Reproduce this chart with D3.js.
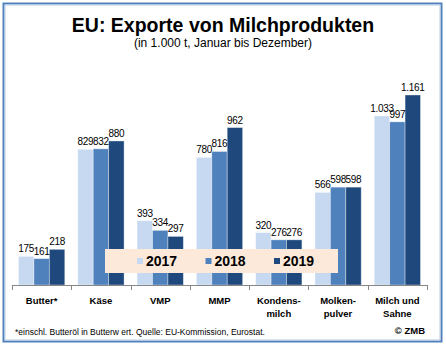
<!DOCTYPE html>
<html>
<head>
<meta charset="utf-8">
<script src="https://cdn.jsdelivr.net/npm/d3@7"></script>
<style>
  html, body { margin: 0; padding: 0; background: #fff; }
  svg { display: block; }
</style>
</head>
<body>
<svg id="chart" width="446" height="346"></svg>
<script>
// Product categories (label lines) and yearly export volumes in 1.000 t
const categories = ["Butter*", "Käse", "VMP", "MMP", "Kondens-\nmilch", "Molken-\npulver", "Milch und\nSahne"];
const years = ["2017", "2018", "2019"];
const values2017 = [175, 829, 393, 780, 320, 566, 1033];
const values2018 = [161, 832, 334, 816, 276, 598, 997];
const values2019 = [218, 880, 297, 962, 276, 598, 1161];
const seriesValues = [values2017, values2018, values2019];
const colors = ["#c6d9f1", "#4f81bd", "#1f497d"];

const svg = d3.select("#chart");
const W = 446, H = 346;

// outer frame
svg.append("rect").attr("x", 3.5).attr("y", 3.5).attr("width", 438).attr("height", 338)
  .attr("fill", "#fff").attr("stroke", "#4f81bd").attr("stroke-width", 2);
svg.append("rect").attr("x", 5).attr("y", 5).attr("width", 435).attr("height", 335)
  .attr("fill", "none").attr("stroke", "#b9cde5").attr("stroke-width", 1);

// titles
svg.append("text").attr("x", 223).attr("y", 32).attr("text-anchor", "middle")
  .attr("font-family", "Liberation Sans, Arial, sans-serif").attr("font-weight", "bold")
  .attr("font-size", 19.5).attr("fill", "#000").text("EU: Exporte von Milchprodukten");
svg.append("text").attr("x", 223).attr("y", 47).attr("text-anchor", "middle")
  .attr("font-family", "Liberation Sans, Arial, sans-serif")
  .attr("font-size", 12).attr("fill", "#000").text("(in 1.000 t, Januar bis Dezember)");

// scales
const x = d3.scaleBand().domain(categories).range([12, 427]).padding(0);
const xs = d3.scaleBand().domain(years).range([6.5, x.bandwidth() - 6.5]).padding(0);
const y = d3.scaleLinear().domain([0, 1400]).range([285, 285 - 1400 * 0.16365]);

const fmt = v => d3.format(",")(v).replace(/,/g, ".");

const data = [];
categories.forEach((c, i) => years.forEach((yr, j) => data.push({ c, yr, j, v: seriesValues[j][i] })));

// bars
svg.append("g").selectAll("rect").data(data).join("rect")
  .attr("x", d => x(d.c) + xs(d.yr))
  .attr("y", d => y(d.v))
  .attr("width", xs.bandwidth())
  .attr("height", d => y(0) - y(d.v))
  .attr("fill", d => colors[d.j])
  .attr("stroke", "rgba(255,255,255,0.45)").attr("stroke-width", 0.8);

// value labels
svg.append("g").selectAll("text").data(data).join("text")
  .attr("x", d => x(d.c) + xs(d.yr) + xs.bandwidth() / 2)
  .attr("y", d => y(d.v) - 4)
  .attr("text-anchor", "middle")
  .attr("font-family", "Liberation Sans, Arial, sans-serif")
  .attr("font-size", 10).attr("letter-spacing", "-0.3")
  .attr("fill", "#000").text(d => fmt(d.v));

// x axis
const axis = svg.append("g").attr("transform", "translate(0,285)");
axis.append("line").attr("x1", 12).attr("x2", 427).attr("y1", 0.5).attr("y2", 0.5)
  .attr("stroke", "#868686").attr("stroke-width", 1);
const bounds = categories.map(c => x(c)).concat([x.range()[1]]);
axis.selectAll("line.tick").data(bounds).join("line").attr("class", "tick")
  .attr("x1", d => Math.round(d) + 0.5).attr("x2", d => Math.round(d) + 0.5)
  .attr("y1", 0).attr("y2", 5).attr("stroke", "#868686");

// category labels
const labels = svg.append("g").selectAll("text").data(categories).join("text")
  .attr("x", d => x(d) + x.bandwidth() / 2)
  .attr("y", 304)
  .attr("text-anchor", "middle")
  .attr("font-family", "Liberation Sans, Arial, sans-serif").attr("font-weight", "bold")
  .attr("font-size", 9.5).attr("fill", "#000");
labels.each(function (d) {
  const lines = d.split("\n");
  d3.select(this).selectAll("tspan").data(lines).join("tspan")
    .attr("x", x(d) + x.bandwidth() / 2)
    .attr("dy", (l, i) => i === 0 ? 0 : 12.5)
    .text(l => l);
});

// legend
const lg = svg.append("g");
lg.append("rect").attr("x", 105).attr("y", 249).attr("width", 233).attr("height", 24)
  .attr("fill", "#fde9d9");
const items = lg.selectAll("g").data(years).join("g")
  .attr("transform", (d, i) => `translate(${137 + i * 68.5},0)`);
items.append("rect").attr("x", 0).attr("y", 258).attr("width", 6).attr("height", 6)
  .attr("fill", (d, i) => colors[i]);
items.append("text").attr("x", 9).attr("y", 265.5)
  .attr("font-family", "Liberation Sans, Arial, sans-serif").attr("font-weight", "bold")
  .attr("font-size", 14).attr("fill", "#000").text(d => d);

// footnote and source
svg.append("text").attr("x", 15).attr("y", 335)
  .attr("font-family", "Liberation Sans, Arial, sans-serif")
  .attr("font-size", 8.5).attr("fill", "#000")
  .text("*einschl. Butteröl in Butterw ert. Quelle: EU-Kommission,  Eurostat.");
svg.append("text").attr("x", 425).attr("y", 334).attr("text-anchor", "end")
  .attr("font-family", "Liberation Sans, Arial, sans-serif").attr("font-weight", "bold")
  .attr("font-size", 9.5).attr("fill", "#000").text("© ZMB");
</script>
</body>
</html>
